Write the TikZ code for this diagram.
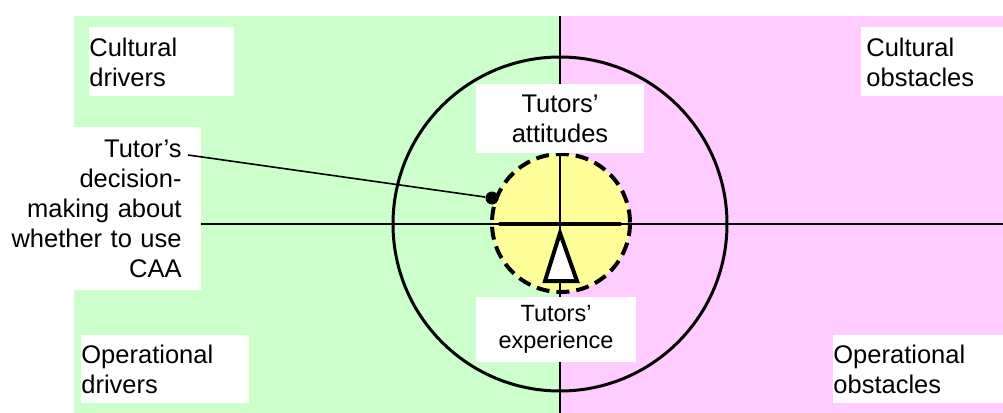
\documentclass[tikz,border=0pt]{standalone}
\usepackage{fontspec}
\setmainfont{Liberation Sans}
\usetikzlibrary{positioning, calc}

\definecolor{drivergreen}{RGB}{204,255,204}
\definecolor{obstaclepink}{RGB}{255,204,255}
\definecolor{coreyellow}{RGB}{255,255,153}

\begin{document}
\begin{tikzpicture}[
    x=0.5pt, y=-0.5pt,
    font=\fontsize{12.75}{15}\selectfont,
    % Styles
    label_box/.style = {rectangle, fill=white, inner ysep=0pt, inner xsep=0pt, align=left},
    centre_box/.style = {rectangle, fill=white, inner sep=0pt, align=center},
    axis/.style = {draw=black, line width=1pt},
    ring/.style = {draw=black, line width=1.5pt},
    core/.style = {draw=black, fill=coreyellow, line width=2pt, dash pattern=on 6.5pt off 3.5pt},
    pointer/.style = {draw=black, line width=0.8pt}
]
\useasboundingbox (0,0) rectangle (1003,413);

% --- 1. QUADRANT BACKGROUND ---
\fill[drivergreen] (74,16) rectangle (560,413);
\fill[obstaclepink] (560,16) rectangle (1003,413);

\coordinate (c) at (560,224);

% --- 2. CIRCLES ---
\draw[ring] (c) circle[radius=167];
\draw[core] (561,223) circle[radius=69];

% --- 3. AXES ---
\draw[axis] (560,16) -- (560,413);
\draw[line width=1.8pt] (499,224) -- (621,224);

% balance pointer
\draw[line width=2pt, fill=white, line join=miter] (560,233) -- (577,281) -- (545,281) -- cycle;

% --- 4. QUADRANT LABELS ---
\node[label_box, anchor=north west, text width=72.5pt, minimum height=34.5pt] (cult_drv) at (89,27) {Cultural\\drivers};
\node[label_box, anchor=north west, inner xsep=2.5pt, text width=66pt, minimum height=34.5pt] (cult_obs) at (861,27) {Cultural\\obstacles};
\node[label_box, anchor=north west, text width=84pt, minimum height=34pt] (oper_drv) at (81,335) {Operational\\drivers};
\node[label_box, anchor=north west, text width=85pt, minimum height=34pt] (oper_obs) at (833,335) {Operational\\obstacles};

% --- 5. CENTRE LABELS ---
\node[centre_box, minimum width=84pt, minimum height=34.5pt] (attitudes) at (560,118.5) {Tutors'\\attitudes};
\node[centre_box, minimum width=80pt, minimum height=32.5pt, font=\fontsize{11.75}{13.5}\selectfont] (experience) at (556,329.5) {Tutors'\\experience};

% --- 6. DECISION ---
\node[rectangle, fill=white, inner xsep=9.5pt, inner ysep=0pt, text width=90pt, minimum height=81.5pt, align=right, anchor=north east] (decision) at (201,127) {Tutor’s\\decision-\\making about\\whether to use\\CAA};

\draw[axis] (decision.east |- c) -- (1003,224);

\node[circle, fill=black, inner sep=0pt, minimum size=6.5pt] (dot) at (492,198) {};
\coordinate (tip) at (188,155);
\draw[pointer] (tip) -- (dot);

\end{tikzpicture}
\end{document}
